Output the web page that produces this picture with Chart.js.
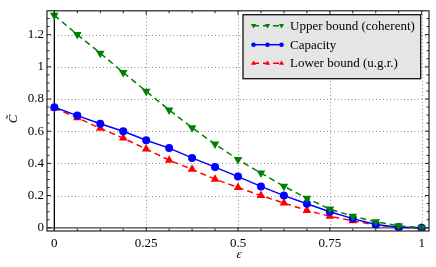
<!DOCTYPE html>
<html>
<head>
<meta charset="utf-8">
<script src="https://cdn.jsdelivr.net/npm/chart.js@4"></script>
<style>
  html, body { margin: 0; padding: 0; background: #fff; }
  #wrap { width: 436px; height: 267px; }
</style>
</head>
<body>
<div id="wrap"><canvas id="chart" width="436" height="267"></canvas></div>
<script>
const eps = [0, 0.0625, 0.125, 0.1875, 0.25, 0.3125, 0.375, 0.4375, 0.5,
             0.5625, 0.625, 0.6875, 0.75, 0.8125, 0.875, 0.9375, 1];
const upperBound = [1.32, 1.20, 1.085, 0.965, 0.848, 0.732, 0.622, 0.52, 0.424,
                    0.34, 0.258, 0.183, 0.116, 0.072, 0.037, 0.012, 0];
const capacity = [0.749, 0.697, 0.646, 0.600, 0.544, 0.495, 0.434, 0.377, 0.318,
                  0.257, 0.200, 0.149, 0.100, 0.057, 0.021, 0.004, 0];
const lowerBound = [0.744, 0.683, 0.618, 0.557, 0.489, 0.42, 0.363, 0.302, 0.251,
                    0.2, 0.154, 0.108, 0.072, 0.043, 0.018, 0.002, 0];
const seriesNames = ['Upper bound (coherent)', 'Capacity', 'Lower bound (u.g.r.)'];
const xTicks = [0, 0.25, 0.5, 0.75, 1];
const yTicks = [0, 0.2, 0.4, 0.6, 0.8, 1, 1.2];
const xMinorStep = 0.0625;
const yMinorStep = 0.05;

const SERIF = '"Liberation Serif", "DejaVu Serif", serif';
const pts = ys => eps.map((x, i) => ({ x: x, y: ys[i] }));

// frame, grid, inner ticks, axis titles and legend
const decor = {
    id: 'decor',
    beforeDatasetsDraw(chart) {
        const { ctx, chartArea: a, scales: { x, y } } = chart;
        ctx.save();
        ctx.strokeStyle = '#8a8a8a';
        ctx.lineWidth = 1;
        ctx.setLineDash([1, 2.5]);
        xTicks.forEach(v => {
            if (v === 0) return;
            const px = Math.round(x.getPixelForValue(v)) + 0.5;
            ctx.beginPath(); ctx.moveTo(px, a.top); ctx.lineTo(px, a.bottom); ctx.stroke();
        });
        yTicks.forEach(v => {
            if (v === 0) return;
            const py = Math.round(y.getPixelForValue(v)) + 0.5;
            ctx.beginPath(); ctx.moveTo(a.left, py); ctx.lineTo(a.right, py); ctx.stroke();
        });
        ctx.setLineDash([]);
        // zero lines
        ctx.strokeStyle = '#444';
        ctx.lineWidth = 1.3;
        const y0 = y.getPixelForValue(0);
        ctx.beginPath(); ctx.moveTo(a.left, y0); ctx.lineTo(a.right, y0); ctx.stroke();
        ctx.strokeStyle = '#000';
        const x0 = x.getPixelForValue(0);
        ctx.beginPath(); ctx.moveTo(x0, a.top); ctx.lineTo(x0, a.bottom); ctx.stroke();
        ctx.restore();
    },
    afterDraw(chart) {
        const { ctx, chartArea: a, scales: { x, y } } = chart;
        ctx.save();
        ctx.strokeStyle = '#222';
        ctx.lineWidth = 1;
        // ticks on all four sides, pointing inward
        for (let i = 0; i * xMinorStep <= 1.0001; i++) {
            const v = i * xMinorStep;
            const px = x.getPixelForValue(v);
            const len = xTicks.includes(v) ? 4 : 2.5;
            ctx.beginPath();
            ctx.moveTo(px, a.bottom); ctx.lineTo(px, a.bottom - len);
            ctx.moveTo(px, a.top); ctx.lineTo(px, a.top + len);
            ctx.stroke();
        }
        for (let i = 0; i * yMinorStep <= 1.3401; i++) {
            const v = Math.round(i * yMinorStep * 100) / 100;
            const py = y.getPixelForValue(v);
            const len = yTicks.includes(v) ? 4 : 2.5;
            ctx.beginPath();
            ctx.moveTo(a.left, py); ctx.lineTo(a.left + len, py);
            ctx.moveTo(a.right, py); ctx.lineTo(a.right - len, py);
            ctx.stroke();
        }
        ctx.lineWidth = 1.2;
        ctx.strokeRect(a.left, a.top, a.right - a.left, a.bottom - a.top);

        // axis titles
        ctx.fillStyle = '#000';
        ctx.font = 'italic 13px ' + SERIF;
        ctx.textAlign = 'center';
        ctx.textBaseline = 'middle';
        ctx.fillText('\u03b5', (a.left + a.right) / 2 + 1, 254.5);
        ctx.save();
        ctx.translate(14, 119);
        ctx.rotate(-Math.PI / 2);
        ctx.fillText('C\u0303', 0, 0);
        ctx.restore();

        // legend
        const lx = 243, ly = 14.7, lw = 177.7, lh = 64;
        ctx.fillStyle = '#e5e5e5';
        ctx.fillRect(lx, ly, lw, lh);
        ctx.strokeStyle = '#111';
        ctx.lineWidth = 1.3;
        ctx.strokeRect(lx, ly, lw, lh);
        const rows = [25.7, 44.7, 63.2];
        chart.data.datasets.forEach((ds, i) => {
            const ry = rows[i];
            ctx.strokeStyle = ds.borderColor;
            ctx.lineWidth = 1.5;
            ctx.setLineDash(ds.borderDash || []);
            ctx.beginPath(); ctx.moveTo(253, ry); ctx.lineTo(282, ry); ctx.stroke();
            ctx.setLineDash([]);
            ctx.fillStyle = ds.borderColor;
            [253.5, 267.5, 281.5].forEach(mx => {
                ctx.beginPath();
                if (ds.pointStyle === 'circle') {
                    ctx.arc(mx, ry, 2.3, 0, Math.PI * 2);
                } else {
                    const d = ds.pointRotation === 180 ? -1 : 1;
                    ctx.moveTo(mx, ry - 2.8 * d);
                    ctx.lineTo(mx + 2.6, ry + 1.6 * d);
                    ctx.lineTo(mx - 2.6, ry + 1.6 * d);
                    ctx.closePath();
                }
                ctx.fill();
            });
            ctx.fillStyle = '#000';
            ctx.font = '13px ' + SERIF;
            ctx.textAlign = 'left';
            ctx.textBaseline = 'middle';
            ctx.fillText(ds.label, 290, ry + 0.5);
        });
        ctx.restore();
    }
};

new Chart(document.getElementById('chart').getContext('2d'), {
    type: 'line',
    data: {
        datasets: [
            {
                label: seriesNames[0], data: pts(upperBound),
                borderColor: '#008000', backgroundColor: '#008000',
                borderWidth: 1.5, borderDash: [6, 4],
                pointStyle: 'triangle', pointRotation: 180, pointRadius: 5,
                pointBorderWidth: 0
            },
            {
                label: seriesNames[1], data: pts(capacity),
                borderColor: '#0000ff', backgroundColor: '#0000ff',
                borderWidth: 1.5,
                pointStyle: 'circle', pointRadius: 4, pointBorderWidth: 0
            },
            {
                label: seriesNames[2], data: pts(lowerBound),
                borderColor: '#ff0000', backgroundColor: '#ff0000',
                borderWidth: 1.5, borderDash: [6, 4],
                pointStyle: 'triangle', pointRadius: 5, pointBorderWidth: 0
            }
        ]
    },
    options: {
        responsive: false,
        animation: false,
        layout: { padding: { top: 7, right: 7, left: 0, bottom: 0 } },
        plugins: { legend: { display: false }, tooltip: { enabled: false } },
        scales: {
            x: {
                type: 'linear', min: -0.02, max: 1.02,
                afterBuildTicks: s => { s.ticks = xTicks.map(v => ({ value: v })); },
                afterFit: s => { s.height = 36; },
                grid: { display: false, drawTicks: false },
                border: { display: false },
                ticks: {
                    color: '#000', padding: 5, maxRotation: 0,
                    font: { family: SERIF, size: 13 },
                    callback: v => String(v)
                }
            },
            y: {
                type: 'linear', min: -0.02, max: 1.348,
                afterBuildTicks: s => { s.ticks = yTicks.map(v => ({ value: v })); },
                afterFit: s => { s.width = 47; },
                grid: { display: false, drawTicks: false },
                border: { display: false },
                ticks: {
                    color: '#000', padding: 3,
                    font: { family: SERIF, size: 13 },
                    callback: v => String(v)
                }
            }
        }
    },
    plugins: [decor]
});
</script>
</body>
</html>
